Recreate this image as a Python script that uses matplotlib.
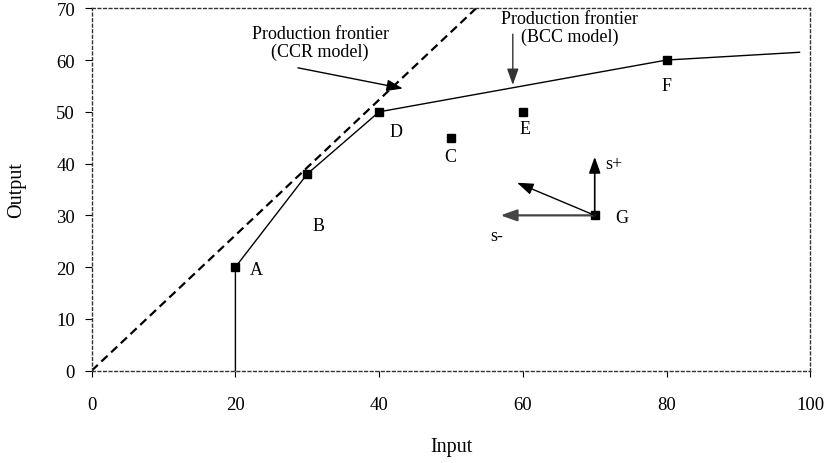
import matplotlib
matplotlib.use("Agg")
import matplotlib.pyplot as plt

plt.rcParams['font.family'] = ['Liberation Serif', 'DejaVu Serif']

# Data
labels = ["A", "B", "C", "D", "E", "F", "G"]
xs = [20, 30, 50, 40, 60, 80, 70]
ys = [20, 38, 45, 50, 50, 60, 30]
label_pos = {"A": (22.9, 19.5), "B": (31.5, 28.0), "C": (49.9, 41.3), "D": (42.4, 46.2),
             "E": (60.3, 46.7), "F": (80.0, 55.0), "G": (73.8, 29.5)}

bcc_x = [20, 20, 30, 40, 80, 98.5]
bcc_y = [0, 20, 38, 50, 60, 61.5]
ccr_x = [0, 53.5]
ccr_y = [0, 70]

xticks = [0, 20, 40, 60, 80, 100]
yticks = [0, 10, 20, 30, 40, 50, 60, 70]

fig = plt.figure(figsize=(8.26, 4.64), dpi=100)
ax = fig.add_axes([0.111, 0.199, 0.870, 0.781])

ax.plot(ccr_x, ccr_y, color='black', lw=1.6, dashes=(3.8, 2.2))
ax.plot(bcc_x, bcc_y, color='black', lw=1.0)
ax.plot(xs, ys, 's', color='black', markersize=5.5, lw=0)

for lab in labels:
    px, py = label_pos[lab]
    ax.text(px, py, lab, ha='center', va='center', fontsize=13)

head = '-|>,head_length=0.7,head_width=0.25'

# Annotations
ax.text(31.8, 63.4, "Production frontier\n(CCR model)", ha='center', va='center',
        fontsize=13, linespacing=1.0)
ax.annotate("", xy=(43.3, 54.5), xytext=(28.7, 58.5),
            arrowprops=dict(arrowstyle=head, color='black', lw=1.0, mutation_scale=14,
                            shrinkA=0, shrinkB=0))
ax.text(66.5, 66.3, "Production frontier\n(BCC model)", ha='center', va='center',
        fontsize=13, linespacing=1.0)
ax.annotate("", xy=(58.6, 55.2), xytext=(58.6, 65.0),
            arrowprops=dict(arrowstyle=head, color='#333333', lw=1.0, mutation_scale=14,
                            shrinkA=0, shrinkB=0))

# G arrows
ax.annotate("", xy=(70, 41.3), xytext=(70, 30),
            arrowprops=dict(arrowstyle=head, color='black', lw=1.2, mutation_scale=14,
                            shrinkA=0, shrinkB=0))
ax.annotate("", xy=(56.9, 30), xytext=(70, 30),
            arrowprops=dict(arrowstyle=head, color='#444444', lw=1.6, mutation_scale=14,
                            shrinkA=0, shrinkB=0))
ax.annotate("", xy=(59.2, 36.3), xytext=(70, 30),
            arrowprops=dict(arrowstyle=head, color='black', lw=1.0, mutation_scale=14,
                            shrinkA=0, shrinkB=0))
ax.text(72.7, 40.0, "s+", ha='center', va='center', fontsize=13)
ax.text(56.4, 26.2, "s-", ha='center', va='center', fontsize=13)

ax.set_xlim(0, 100)
ax.set_ylim(0, 70)
ax.set_xticks(xticks)
ax.set_yticks(yticks)
ax.tick_params(axis='x', direction='out', length=4, width=0.8, pad=14, labelsize=13.5)
ax.tick_params(axis='y', direction='out', length=5, width=0.8, pad=7, labelsize=13.5)
for s in ax.spines.values():
    s.set_linestyle((0, (2, 2)))
    s.set_linewidth(1.0)
    s.set_color('#333333')

ax.set_xlabel("Input", fontsize=14.5)
ax.set_ylabel("Output", fontsize=14.5)
ax.xaxis.set_label_coords(0.5, -0.21)
ax.xaxis.label.set_va('center')
ax.yaxis.set_label_coords(-0.105, 0.5)
ax.yaxis.label.set_va('center')

fig.savefig("out.png", dpi=100)
